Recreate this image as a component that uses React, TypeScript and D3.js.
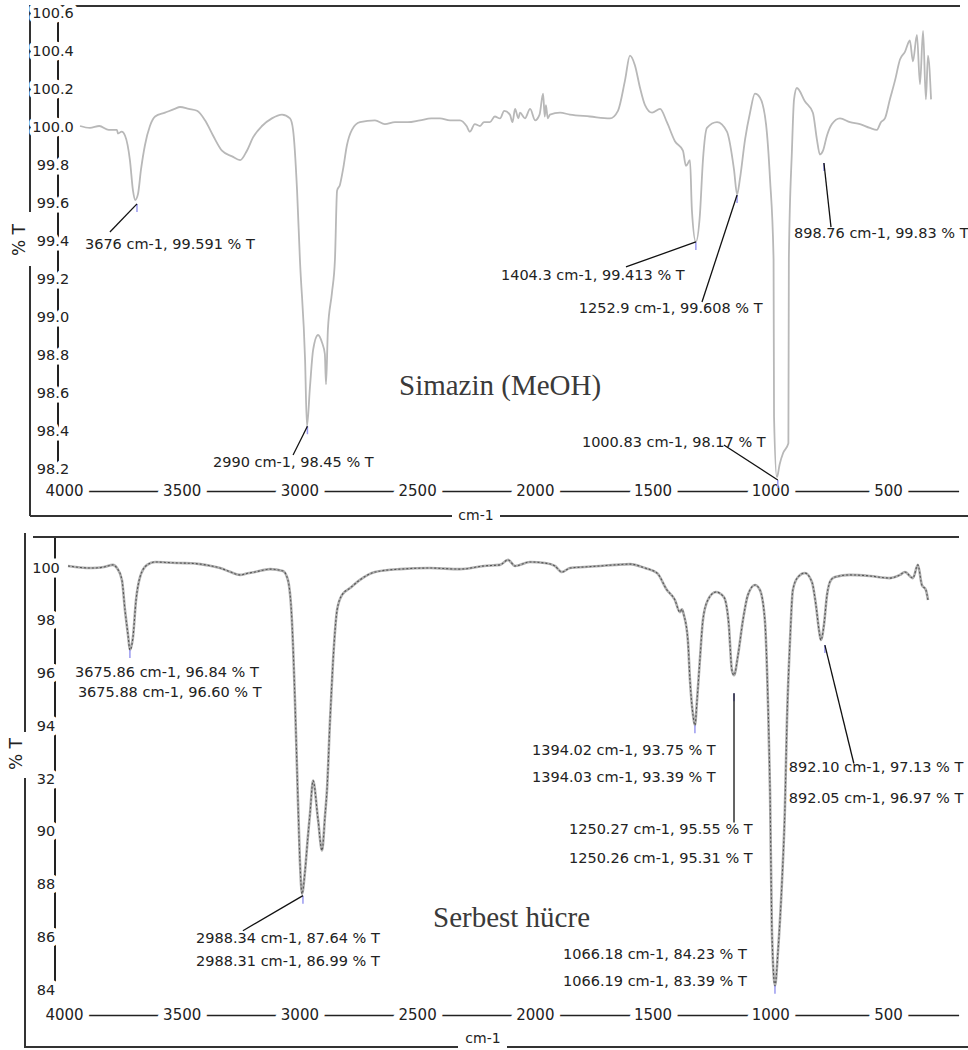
import { useEffect, useRef } from "react";
import * as d3 from "d3";

// ── Types ─────────────────────────────────────────────────────────────────────
type Pt = [number, number]; // [wavenumber cm-1, %T]

interface Note {
  lines: string[];
  at:    Pt[];      // text baseline-left anchor, in data units
  peak:  Pt;        // marked point on the spectrum
  from?: Pt;        // start of leader line (near text)
}

// ── Data ──────────────────────────────────────────────────────────────────────
const X_TICKS = [4000, 3500, 3000, 2500, 2000, 1500, 1000, 500];

const TOP_Y_TICKS  = [98.2, 98.4, 98.6, 98.8, 99.0, 99.2, 99.4, 99.6, 99.8, 100.0, 100.2, 100.4, 100.6];
const TOP_Y_LABELS = ["98.2", "98.4", "98.6", "98.8", "99.0", "99.2", "99.4", "99.6", "99.8", "100.0", "100.2", "100.4", "100.6"];

const BOT_Y_TICKS  = [84, 86, 88, 90, 92, 94, 96, 98, 100];
const BOT_Y_LABELS = ["84", "86", "88", "90", "32", "94", "96", "98", "100"];

// Simazin (MeOH)
const simazin: Pt[] = [
  [3932, 100.0], [3890, 99.99], [3850, 100.0], [3810, 99.98], [3775, 99.98], [3771, 99.96],
  [3755, 99.97], [3741, 99.95], [3720, 99.82], [3707, 99.66], [3698, 99.61], [3686, 99.64],
  [3673, 99.77], [3656, 99.9], [3635, 100.0], [3613, 100.05], [3571, 100.07], [3530, 100.09],
  [3507, 100.1], [3470, 100.09], [3435, 100.08], [3401, 100.03], [3367, 99.95], [3329, 99.87],
  [3286, 99.84], [3252, 99.82], [3223, 99.87], [3197, 99.94], [3159, 100.0], [3117, 100.04],
  [3074, 100.06], [3040, 100.04], [3027, 99.98], [3010, 99.66], [2998, 99.3], [2976, 98.77],
  [2968, 98.42], [2955, 98.63], [2942, 98.82], [2921, 98.9], [2904, 98.86], [2892, 98.8],
  [2887, 98.64], [2879, 98.93], [2862, 99.12], [2849, 99.3], [2840, 99.66], [2828, 99.69],
  [2815, 99.77], [2798, 99.9], [2777, 99.98], [2743, 100.02], [2679, 100.03], [2637, 100.01],
  [2594, 100.02], [2540, 100.02], [2488, 100.03], [2440, 100.04], [2403, 100.04], [2360, 100.03],
  [2318, 100.03], [2290, 100.0], [2276, 99.97], [2255, 100.01], [2233, 100.0], [2216, 100.02],
  [2191, 100.02], [2170, 100.05], [2148, 100.04], [2130, 100.08], [2106, 100.06], [2095, 100.02],
  [2084, 100.09], [2070, 100.04], [2063, 100.07], [2042, 100.04], [2020, 100.09], [1999, 100.03],
  [1980, 100.06], [1965, 100.17], [1958, 100.05], [1953, 100.11], [1945, 100.04], [1936, 100.06],
  [1893, 100.07], [1851, 100.06], [1766, 100.05], [1681, 100.04], [1647, 100.08], [1617, 100.24],
  [1596, 100.37], [1575, 100.32], [1553, 100.2], [1532, 100.11], [1502, 100.07], [1468, 100.09],
  [1439, 100.02], [1405, 99.92], [1371, 99.87], [1358, 99.79], [1341, 99.82], [1333, 99.56],
  [1316, 99.39], [1299, 99.53], [1286, 99.82], [1269, 99.99], [1226, 100.02], [1184, 99.97],
  [1154, 99.77], [1141, 99.64], [1129, 99.72], [1107, 99.93], [1086, 100.07], [1065, 100.17],
  [1044, 100.15], [1018, 100.01], [1001, 99.72], [986, 99.3], [984, 98.47], [972, 98.15],
  [960, 98.22], [945, 98.28], [923, 98.33], [921, 99.3], [908, 99.87], [899, 100.14],
  [887, 100.2], [853, 100.13], [819, 100.07], [802, 99.93], [789, 99.85],
  [776, 99.87], [759, 99.95], [738, 100.01], [704, 100.04], [661, 100.02], [619, 100.01],
  [577, 99.99], [547, 99.98], [530, 100.02], [513, 100.04], [492, 100.14], [470, 100.24],
  [449, 100.35], [428, 100.39], [407, 100.45], [394, 100.34], [377, 100.48], [364, 100.22],
  [351, 100.5], [339, 100.14], [330, 100.37], [317, 100.14],
];

// Serbest hücre
const serbest: Pt[] = [
  [3983, 100.04], [3930, 99.98], [3880, 99.96], [3830, 100.0], [3792, 100.08], [3775, 99.96],
  [3754, 99.51], [3741, 98.37], [3728, 97.42], [3720, 96.85], [3707, 97.34], [3694, 98.75],
  [3677, 99.62], [3647, 100.08], [3613, 100.19], [3560, 100.17], [3507, 100.15], [3460, 100.14],
  [3422, 100.11], [3380, 100.05], [3337, 99.96], [3295, 99.82], [3252, 99.7], [3220, 99.76],
  [3189, 99.81], [3125, 99.92], [3070, 99.85], [3049, 99.51], [3032, 97.99], [3019, 94.95],
  [3010, 92.29], [2998, 88.87], [2989, 87.61], [2976, 88.49], [2964, 89.78], [2955, 90.65],
  [2942, 91.9], [2921, 90.43], [2904, 89.25], [2891, 90.6], [2883, 91.53], [2870, 94.19],
  [2857, 96.47], [2840, 98.37], [2819, 98.94], [2785, 99.2], [2743, 99.51], [2679, 99.81],
  [2573, 99.92], [2445, 99.96], [2318, 99.92], [2216, 100.04], [2148, 100.08], [2114, 100.27],
  [2084, 100.04], [2021, 100.19], [1957, 100.15], [1915, 100.04], [1885, 99.81], [1851, 99.96],
  [1790, 100.0], [1723, 100.04], [1660, 100.08], [1596, 100.11], [1532, 99.96], [1481, 99.77],
  [1439, 99.13], [1405, 98.75], [1384, 98.29], [1375, 98.4], [1367, 98.18], [1350, 97.23],
  [1341, 95.71], [1328, 94.38], [1320, 94.0], [1311, 94.95], [1299, 96.47], [1286, 97.99],
  [1265, 98.75], [1231, 99.05], [1197, 98.86], [1176, 97.8], [1163, 96.09], [1154, 95.9],
  [1137, 96.66], [1116, 97.99], [1095, 98.94], [1065, 99.32], [1044, 99.13], [1023, 97.99],
  [1010, 94.95], [1001, 91.5], [993, 86.2], [980, 84.12], [967, 85.45], [950, 88.11],
  [938, 90.77], [929, 94.19], [916, 97.23], [904, 99.13], [882, 99.62], [853, 99.77],
  [823, 99.43], [806, 98.56], [793, 97.61], [785, 97.23], [772, 97.8], [759, 98.94],
  [742, 99.51], [725, 99.62], [661, 99.7], [577, 99.66], [492, 99.58], [449, 99.7],
  [428, 99.81], [394, 99.58], [373, 100.08], [356, 99.32], [339, 99.13], [330, 98.75],
];

const topNotes: Note[] = [
  { lines: ["3676 cm-1, 99.591 % T"],   at: [[3911, 99.353]], peak: [3690, 99.59],  from: [3805, 99.442] },
  { lines: ["2990 cm-1, 98.45 % T"],    at: [[3367, 98.205]], peak: [2966, 98.42],  from: [3027, 98.268] },
  { lines: ["1404.3 cm-1, 99.413 % T"], at: [[2144, 99.189]], peak: [1316, 99.39],  from: [1613, 99.258] },
  { lines: ["1252.9 cm-1, 99.608 % T"], at: [[1813, 99.016]], peak: [1141, 99.637], from: [1290, 99.074] },
  { lines: ["1000.83 cm-1, 98.17 % T"], at: [[1800, 98.311]], peak: [968, 98.137],  from: [1197, 98.321] },
  { lines: ["898.76 cm-1, 99.83 % T"],  at: [[899, 99.411]],  peak: [772, 99.805],  from: [742, 99.468] },
];

const botNotes: Note[] = [
  { lines: ["3675.86 cm-1, 96.84 % T", "3675.88 cm-1, 96.60 % T"], at: [[3953, 95.82], [3941, 95.06]], peak: [3720, 96.85] },
  { lines: ["2988.34 cm-1, 87.64 % T", "2988.31 cm-1, 86.99 % T"], at: [[3439, 85.75], [3439, 84.88]], peak: [2985, 87.54], from: [3240, 86.21] },
  { lines: ["1394.02 cm-1, 93.75 % T", "1394.03 cm-1, 93.39 % T"], at: [[2012, 92.86], [2012, 91.83]], peak: [1320, 94.0] },
  { lines: ["1250.27 cm-1, 95.55 % T", "1250.26 cm-1, 95.31 % T"], at: [[1855, 89.89], [1855, 88.79]], peak: [1154, 95.21], from: [1154, 90.31] },
  { lines: ["1066.18 cm-1, 84.23 % T", "1066.19 cm-1, 83.39 % T"], at: [[1880, 85.14], [1880, 84.12]], peak: [980, 84.12] },
  { lines: ["892.10 cm-1, 97.13 % T", "892.05 cm-1, 96.97 % T"],   at: [[921, 92.21], [921, 91.07]],   peak: [768, 97.04], from: [645, 92.55] },
];

// ── Layout ────────────────────────────────────────────────────────────────────
const W = 968;
const H = 1050;
const SANS  = "'DejaVu Sans', Verdana, sans-serif";
const SERIF = "'Liberation Serif', 'Times New Roman', serif";
const INK = "#222";

interface Panel {
  data:     Pt[];
  notes:    Note[];
  yDomain:  [number, number];
  yRange:   [number, number];
  yTicks:   number[];
  yLabels:  string[];
  yAxisX:   number;
  yAxisTop: number;
  yLabelX:  number;
  xAxisY:   number;
  frame:    [number, number, number, number][];
  cm:       [number, number];
  pctT:     [number, number];
  title:    string;
  titleAt:  [number, number];
  dashed:   boolean;
}

const PANELS: Panel[] = [
  {
    data: simazin, notes: topNotes,
    yDomain: [98.2, 100.6], yRange: [468, 12],
    yTicks: TOP_Y_TICKS, yLabels: TOP_Y_LABELS,
    yAxisX: 58, yAxisTop: 7, yLabelX: 53, xAxisY: 491,
    frame: [[37, 6, 960, 6], [30, 5, 30, 212], [30, 266, 30, 516], [30, 516, 452, 516], [500, 516, 968, 516]],
    cm: [476, 520], pctT: [19, 240],
    title: "Simazin (MeOH)", titleAt: [399, 395],
    dashed: false,
  },
  {
    data: serbest, notes: botNotes,
    yDomain: [84, 100], yRange: [989, 567],
    yTicks: BOT_Y_TICKS, yLabels: BOT_Y_LABELS,
    yAxisX: 55, yAxisTop: 538, yLabelX: 46, xAxisY: 1015,
    frame: [[33, 537, 959, 537], [25, 533, 25, 732], [25, 778, 25, 1048], [25, 1047, 458, 1047], [507, 1047, 968, 1047]],
    cm: [483, 1043], pctT: [16, 754],
    title: "Serbest hücre", titleAt: [433, 927],
    dashed: true,
  },
];

// ── Drawing ───────────────────────────────────────────────────────────────────
function drawPanel(svg: d3.Selection<SVGSVGElement, unknown, null, undefined>, p: Panel) {
  const x = d3.scaleLinear().domain([4000, 200]).range([64, 958.6]);
  const y = d3.scaleLinear().domain(p.yDomain).range(p.yRange);
  const g = svg.append("g");

  // frame
  p.frame.forEach(([x1, y1, x2, y2]) => {
    g.append("line")
      .attr("x1", x1).attr("y1", y1).attr("x2", x2).attr("y2", y2)
      .attr("stroke", "#333").attr("stroke-width", 2);
  });

  g.append("text")
    .attr("x", p.cm[0]).attr("y", p.cm[1])
    .attr("text-anchor", "middle")
    .attr("font-family", SANS).attr("font-size", 14).attr("fill", INK)
    .text("cm-1");

  g.append("text")
    .attr("transform", `translate(${p.pctT[0]},${p.pctT[1]}) rotate(-90)`)
    .attr("text-anchor", "middle").attr("dominant-baseline", "central")
    .attr("font-family", SANS).attr("font-size", 17).attr("fill", INK)
    .text("% T");

  // spectrum
  const line = d3.line<Pt>()
    .x((d) => x(d[0]))
    .y((d) => y(d[1]))
    .curve(d3.curveMonotoneX);
  if (p.dashed) {
    g.append("path").datum(p.data).attr("d", line)
      .attr("fill", "none").attr("stroke", "#b0b0b0").attr("stroke-width", 2.6)
      .attr("stroke-linejoin", "round");
    g.append("path").datum(p.data).attr("d", line)
      .attr("fill", "none").attr("stroke", "#555").attr("stroke-width", 1.1)
      .attr("stroke-dasharray", "2 2");
  } else {
    g.append("path").datum(p.data).attr("d", line)
      .attr("fill", "none").attr("stroke", "#b8b8b8").attr("stroke-width", 1.8)
      .attr("stroke-linejoin", "round");
  }

  // y axis (line broken by labels)
  g.append("line")
    .attr("x1", p.yAxisX).attr("x2", p.yAxisX)
    .attr("y1", p.yAxisTop).attr("y2", y(p.yDomain[0]))
    .attr("stroke", INK).attr("stroke-width", 2);

  const ya = g.append("g")
    .attr("transform", `translate(${p.yAxisX},0)`)
    .call(
      d3.axisLeft(y)
        .tickValues(p.yTicks)
        .tickSize(0).tickPadding(0)
        .tickFormat((_d, i) => p.yLabels[i])
    )
    .attr("font-family", SANS).attr("font-size", 14.5);
  ya.select(".domain").remove();
  ya.selectAll("text")
    .attr("x", p.yLabelX - p.yAxisX).attr("dy", "0.36em")
    .attr("text-anchor", "middle")
    .attr("fill", INK)
    .attr("stroke", "#fff").attr("stroke-width", 9)
    .attr("stroke-linejoin", "round").attr("paint-order", "stroke");

  // x axis (line broken by labels)
  const xa = g.append("g")
    .attr("transform", `translate(0,${p.xAxisY})`)
    .call(
      d3.axisBottom(x)
        .tickValues(X_TICKS)
        .tickSize(0).tickSizeOuter(0).tickPadding(0)
        .tickFormat(d3.format("d"))
    )
    .attr("font-family", SANS).attr("font-size", 15);
  xa.select(".domain").attr("stroke", INK).attr("stroke-width", 1.6);
  xa.selectAll("text")
    .attr("y", 0).attr("dy", "0.36em")
    .attr("fill", INK)
    .attr("stroke", "#fff").attr("stroke-width", 13)
    .attr("stroke-linejoin", "round").attr("paint-order", "stroke");

  // title
  g.append("text")
    .attr("x", p.titleAt[0]).attr("y", p.titleAt[1])
    .attr("font-family", SERIF).attr("font-size", 29).attr("fill", "#3a3a3a")
    .text(p.title);

  // peak annotations
  p.notes.forEach((n) => {
    g.append("line")
      .attr("x1", x(n.peak[0])).attr("x2", x(n.peak[0]))
      .attr("y1", y(n.peak[1])).attr("y2", y(n.peak[1]) + 8)
      .attr("stroke", "#9a9af0").attr("stroke-width", 1.5);
    if (n.from) {
      g.append("line")
        .attr("x1", x(n.from[0])).attr("y1", y(n.from[1]))
        .attr("x2", x(n.peak[0])).attr("y2", y(n.peak[1]))
        .attr("stroke", "#111").attr("stroke-width", 1.3);
    }
    n.lines.forEach((t, i) => {
      g.append("text")
        .attr("x", x(n.at[i][0])).attr("y", y(n.at[i][1]))
        .attr("font-family", SANS).attr("font-size", 14.5).attr("fill", INK)
        .text(t);
    });
  });
}

// ── Component ─────────────────────────────────────────────────────────────────
export default function App() {
  const svgRef = useRef<SVGSVGElement>(null);

  useEffect(() => {
    if (!svgRef.current) return;
    const svg = d3.select(svgRef.current);
    svg.selectAll("*").remove();
    PANELS.forEach((p) => drawPanel(svg, p));
  }, []);

  return (
    <svg
      ref={svgRef}
      width={W}
      height={H}
      style={{ position: "absolute", left: 0, top: 0, background: "#fff" }}
    />
  );
}
